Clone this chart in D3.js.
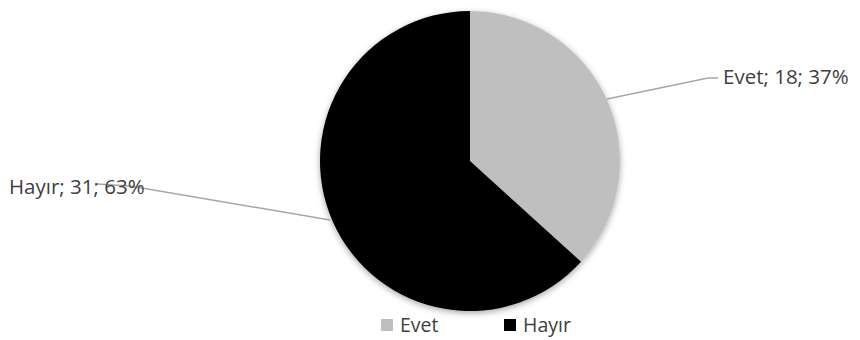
<!DOCTYPE html>
<html>
<head>
<meta charset="utf-8">
<script src="https://cdn.jsdelivr.net/npm/d3@7"></script>
<style>
  body { margin: 0; background: #fff; }
  text { font-family: "Open Sans", "Liberation Sans", sans-serif; fill: #404040; }
</style>
</head>
<body>
<div id="chart"></div>
<script>
var categories = ["Evet", "Hayır"];
var values = [18, 31];
var colors = ["#bfbfbf", "#000000"];

var width = 860, height = 340;
var cx = 470, cy = 161, radius = 150;

var svg = d3.select("#chart").append("svg")
    .attr("width", width)
    .attr("height", height);

// soft shadow like the office chart
var defs = svg.append("defs");
var f = defs.append("filter").attr("id", "shadow")
    .attr("x", "-20%").attr("y", "-20%").attr("width", "140%").attr("height", "140%");
f.append("feDropShadow").attr("dx", 0).attr("dy", 2).attr("stdDeviation", 3)
    .attr("flood-color", "#000").attr("flood-opacity", 0.35);

var data = categories.map(function(c, i){ return {name: c, value: values[i], color: colors[i]}; });
var total = d3.sum(values);

var pie = d3.pie().sort(null).value(function(d){ return d.value; });
var arc = d3.arc().innerRadius(0).outerRadius(radius);
var arcs = pie(data);

var g = svg.append("g").attr("transform", "translate(" + cx + "," + cy + ")");
g.append("g").attr("filter", "url(#shadow)")
  .selectAll("path")
  .data(arcs)
  .enter().append("path")
  .attr("d", arc)
  .attr("fill", function(d){ return d.data.color; });

// labels with leader lines
var labelPos = [
  {anchor: [607 - cx, 99 - cy], elbow: [708 - cx, 78 - cy], end: [718 - cx, 78 - cy], tx: 723 - cx, ty: 84 - cy},
  {anchor: [330 - cx, 220 - cy], elbow: [130 - cx, 186 - cy], end: [97 - cx, 184 - cy], tx: 9 - cx, ty: 194 - cy}
];

arcs.forEach(function(a, i){
  var p = labelPos[i];
  var pct = Math.round(a.data.value / total * 100);
  g.append("polyline")
    .attr("points", [p.anchor, p.elbow, p.end].map(function(q){ return q.join(","); }).join(" "))
    .attr("fill", "none")
    .attr("stroke", "#a6a6a6")
    .attr("stroke-width", 1.5);
  g.append("text")
    .attr("x", p.tx)
    .attr("y", p.ty)
    .style("font-size", "20.5px")
    .text(a.data.name + "; " + a.data.value + "; " + pct + "%");
});

// legend
var legendX = [381, 504];
var legend = svg.selectAll(".legend")
  .data(data)
  .enter().append("g")
  .attr("class", "legend")
  .attr("transform", function(d, i){ return "translate(" + legendX[i] + ",319)"; });

legend.append("rect")
  .attr("width", 12).attr("height", 12)
  .attr("fill", function(d){ return d.color; });

legend.append("text")
  .attr("x", 19).attr("y", 13)
  .style("font-size", "19.5px")
  .text(function(d){ return d.name; });
</script>
</body>
</html>
